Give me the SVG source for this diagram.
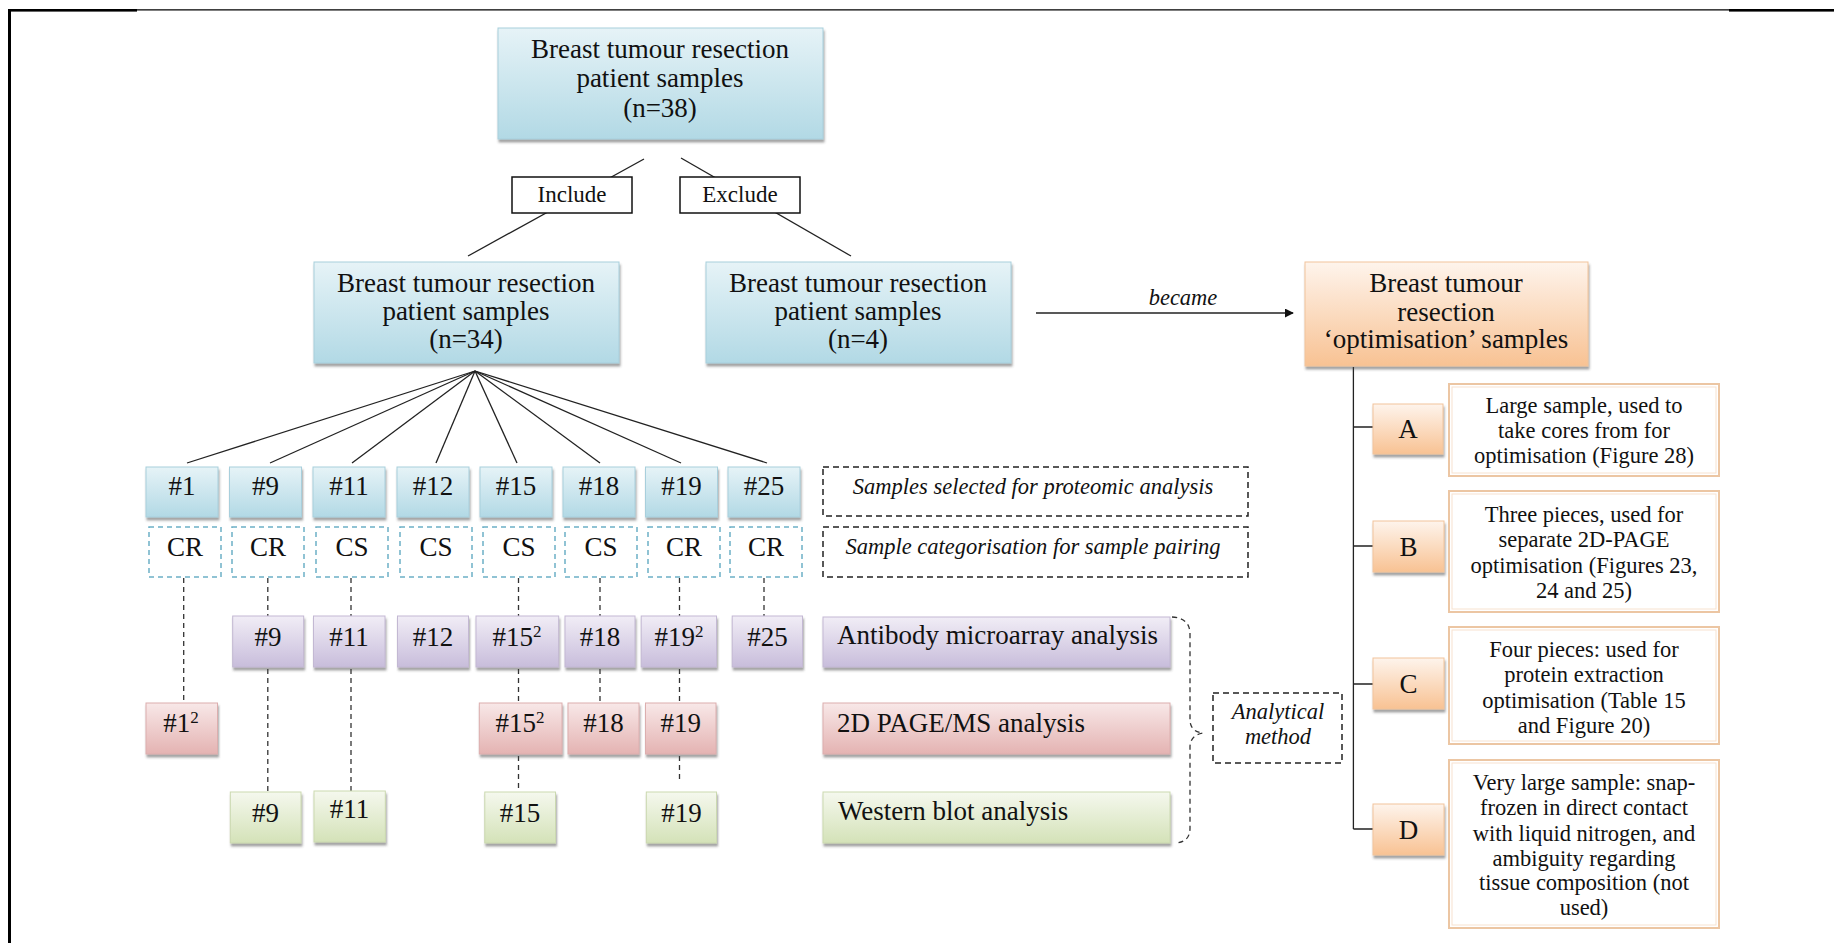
<svg xmlns="http://www.w3.org/2000/svg" width="1834" height="943" viewBox="0 0 1834 943">
<defs>
<style>
.t{font-family:"Liberation Serif","Times New Roman",serif;fill:#111;text-anchor:middle}
.big{font-size:27px}
.num{font-size:27px}
.it{font-style:italic;font-size:22.5px}
.desc{font-size:22.5px}
.lbl{font-size:27px;text-anchor:start}
.ie{font-size:23px}
.blue{fill:url(#gBlue);stroke:#a8cfdc;stroke-width:1}
.purple{fill:url(#gPurple);stroke:#c3b8d3;stroke-width:1}
.red{fill:url(#gRed);stroke:#dcaeae;stroke-width:1}
.green{fill:url(#gGreen);stroke:#cbd9b0;stroke-width:1}
.orange{fill:url(#gOrange);stroke:#f1c49c;stroke-width:1}
.cat{fill:#fff;stroke:#6cb0c6;stroke-width:1.5;stroke-dasharray:5 4}
.note{fill:#fff;stroke:#222;stroke-width:1.5;stroke-dasharray:6 4}
.descbox{fill:#fff;stroke:#ecc6a3;stroke-width:2}
.descin{fill:none;stroke:#f7e2cf;stroke-width:1}
.ln{stroke:#222;stroke-width:1.3;fill:none}
.dl{stroke:#333;stroke-width:1.3;stroke-dasharray:5 4;fill:none}
</style>
<linearGradient id="gBlue" x1="0" y1="0" x2="0" y2="1"><stop offset="0" stop-color="#e6f3f7"/><stop offset="1" stop-color="#b2d9e5"/></linearGradient>
<linearGradient id="gPurple" x1="0" y1="0" x2="0" y2="1"><stop offset="0" stop-color="#f1edf6"/><stop offset="1" stop-color="#c8bddb"/></linearGradient>
<linearGradient id="gRed" x1="0" y1="0" x2="0" y2="1"><stop offset="0" stop-color="#f8e8e8"/><stop offset="1" stop-color="#e4b3b2"/></linearGradient>
<linearGradient id="gGreen" x1="0" y1="0" x2="0" y2="1"><stop offset="0" stop-color="#f5f8ee"/><stop offset="1" stop-color="#d4e2b8"/></linearGradient>
<linearGradient id="gOrange" x1="0" y1="0" x2="0" y2="1"><stop offset="0" stop-color="#fef4ec"/><stop offset="1" stop-color="#f8c293"/></linearGradient>
<filter id="sh" x="-10%" y="-10%" width="125%" height="135%"><feDropShadow dx="1" dy="3" stdDeviation="1.2" flood-color="#444" flood-opacity="0.5"/></filter>
<marker id="arr" viewBox="0 0 10 10" refX="9" refY="5" markerWidth="9" markerHeight="9" markerUnits="userSpaceOnUse" orient="auto"><path d="M0,0 L10,5 L0,10 z" fill="#111"/></marker>
</defs>
<rect width="1834" height="943" fill="#fff"/>
<g id="frame">
<line x1="9" y1="9.8" x2="1834" y2="9.8" stroke="#000" stroke-width="1.2"/>
<rect x="8" y="9" width="129" height="2.6" fill="#000"/>
<rect x="1729" y="9" width="105" height="2.6" fill="#000"/>
<rect x="8" y="9" width="3" height="934" fill="#000"/>
</g>
<g id="connectors">
<line class="ln" x1="644" y1="159" x2="468" y2="256"/>
<line class="ln" x1="681" y1="158" x2="851" y2="256"/>
<line class="ln" x1="475" y1="371" x2="187" y2="463"/>
<line class="ln" x1="475" y1="371" x2="270" y2="463"/>
<line class="ln" x1="475" y1="371" x2="352" y2="463"/>
<line class="ln" x1="475" y1="371" x2="436" y2="463"/>
<line class="ln" x1="475" y1="371" x2="517" y2="463"/>
<line class="ln" x1="475" y1="371" x2="600" y2="463"/>
<line class="ln" x1="475" y1="371" x2="681" y2="463"/>
<line class="ln" x1="475" y1="371" x2="767" y2="463"/>
<line class="dl" x1="183.7" y1="578" x2="183.7" y2="703"/>
<line class="dl" x1="267.8" y1="578" x2="267.8" y2="616"/>
<line class="dl" x1="267.8" y1="669" x2="267.8" y2="792"/>
<line class="dl" x1="351" y1="578" x2="351" y2="616"/>
<line class="dl" x1="351" y1="669" x2="351" y2="792"/>
<line class="dl" x1="518.5" y1="578" x2="518.5" y2="616"/>
<line class="dl" x1="518.5" y1="669" x2="518.5" y2="703"/>
<line class="dl" x1="518.5" y1="756" x2="518.5" y2="792"/>
<line class="dl" x1="600" y1="578" x2="600" y2="616"/>
<line class="dl" x1="600" y1="669" x2="600" y2="703"/>
<line class="dl" x1="679.5" y1="578" x2="679.5" y2="616"/>
<line class="dl" x1="679.5" y1="669" x2="679.5" y2="703"/>
<line class="dl" x1="679.5" y1="756" x2="679.5" y2="782"/>
<line class="dl" x1="764" y1="578" x2="764" y2="616"/>
<line class="ln" x1="1036" y1="313" x2="1293" y2="313" marker-end="url(#arr)"/>
<text class="t it" x="1183" y="305">became</text>
<path class="ln" d="M1353.4,367 V829 M1353.4,427 H1373 M1353.4,546 H1373 M1353.4,684 H1373 M1353.4,829 H1373"/>
<path class="dl" d="M1172,617 Q1190,618 1190,634 L1190,721 Q1191,732 1203,733 Q1191,735 1190,746 L1190,828 Q1190,842 1176,843"/>
</g>
<g id="n38"><rect class="blue" filter="url(#sh)" x="498" y="28" width="325" height="111"/><text class="t big" x="660" y="58">Breast tumour resection</text><text class="t big" x="660" y="87">patient samples</text><text class="t big" x="660" y="117">(n=38)</text></g>
<g id="include"><rect x="512" y="177" width="120" height="36" fill="#fff" stroke="#111" stroke-width="1.5"/><text class="t ie" x="572" y="202">Include</text></g>
<g id="exclude"><rect x="680" y="177" width="120" height="36" fill="#fff" stroke="#111" stroke-width="1.5"/><text class="t ie" x="740" y="202">Exclude</text></g>
<g id="n34"><rect class="blue" filter="url(#sh)" x="314" y="262" width="305" height="101"/><text class="t big" x="466" y="292">Breast tumour resection</text><text class="t big" x="466" y="320">patient samples</text><text class="t big" x="466" y="348">(n=34)</text></g>
<g id="n4"><rect class="blue" filter="url(#sh)" x="706" y="262" width="305" height="101"/><text class="t big" x="858" y="292">Breast tumour resection</text><text class="t big" x="858" y="320">patient samples</text><text class="t big" x="858" y="348">(n=4)</text></g>
<g id="opt"><rect class="orange" filter="url(#sh)" x="1305" y="262" width="283" height="104"/><text class="t big" x="1446" y="292">Breast tumour</text><text class="t big" x="1446" y="321">resection</text><text class="t big" x="1446" y="348">‘optimisation’ samples</text></g>
<g id="samples">
<g id="s1"><rect class="blue" filter="url(#sh)" x="146" y="467" width="72" height="50"/><text class="t num" x="182" y="495">#1</text></g>
<g id="s9"><rect class="blue" filter="url(#sh)" x="229.5" y="467" width="72" height="50"/><text class="t num" x="265.5" y="495">#9</text></g>
<g id="s11"><rect class="blue" filter="url(#sh)" x="313" y="467" width="72" height="50"/><text class="t num" x="349" y="495">#11</text></g>
<g id="s12"><rect class="blue" filter="url(#sh)" x="397" y="467" width="72" height="50"/><text class="t num" x="433" y="495">#12</text></g>
<g id="s15"><rect class="blue" filter="url(#sh)" x="480" y="467" width="72" height="50"/><text class="t num" x="516" y="495">#15</text></g>
<g id="s18"><rect class="blue" filter="url(#sh)" x="563" y="467" width="72" height="50"/><text class="t num" x="599" y="495">#18</text></g>
<g id="s19"><rect class="blue" filter="url(#sh)" x="645.5" y="467" width="72" height="50"/><text class="t num" x="681.5" y="495">#19</text></g>
<g id="s25"><rect class="blue" filter="url(#sh)" x="728" y="467" width="72" height="50"/><text class="t num" x="764" y="495">#25</text></g>
</g>
<g id="categories">
<g id="c1"><rect class="cat" x="149" y="527" width="72" height="50"/><text class="t num" x="185" y="556">CR</text></g>
<g id="c9"><rect class="cat" x="232" y="527" width="72" height="50"/><text class="t num" x="268" y="556">CR</text></g>
<g id="c11"><rect class="cat" x="316" y="527" width="72" height="50"/><text class="t num" x="352" y="556">CS</text></g>
<g id="c12"><rect class="cat" x="400" y="527" width="72" height="50"/><text class="t num" x="436" y="556">CS</text></g>
<g id="c15"><rect class="cat" x="483" y="527" width="72" height="50"/><text class="t num" x="519" y="556">CS</text></g>
<g id="c18"><rect class="cat" x="565" y="527" width="72" height="50"/><text class="t num" x="601" y="556">CS</text></g>
<g id="c19"><rect class="cat" x="648" y="527" width="72" height="50"/><text class="t num" x="684" y="556">CR</text></g>
<g id="c25"><rect class="cat" x="730" y="527" width="72" height="50"/><text class="t num" x="766" y="556">CR</text></g>
</g>
<g id="antibody-row">
<g id="a9"><rect class="purple" filter="url(#sh)" x="232.7" y="616" width="71" height="51"/><text class="t num" x="268" y="646">#9</text></g>
<g id="a11"><rect class="purple" filter="url(#sh)" x="313.5" y="616" width="71.5" height="51"/><text class="t num" x="349" y="646">#11</text></g>
<g id="a12"><rect class="purple" filter="url(#sh)" x="397.5" y="616" width="71" height="51"/><text class="t num" x="433" y="646">#12</text></g>
<g id="a15"><rect class="purple" filter="url(#sh)" x="476" y="616" width="82.7" height="51"/><text class="t num" x="517" y="646">#15<tspan font-size="17" dy="-9">2</tspan></text></g>
<g id="a18"><rect class="purple" filter="url(#sh)" x="565" y="616" width="70" height="51"/><text class="t num" x="600" y="646">#18</text></g>
<g id="a19"><rect class="purple" filter="url(#sh)" x="641.2" y="616" width="75.3" height="51"/><text class="t num" x="679" y="646">#19<tspan font-size="17" dy="-9">2</tspan></text></g>
<g id="a25"><rect class="purple" filter="url(#sh)" x="732.2" y="616" width="70.3" height="51"/><text class="t num" x="767.5" y="646">#25</text></g>
</g>
<g id="page-row">
<g id="p1"><rect class="red" filter="url(#sh)" x="146" y="703" width="71.5" height="51"/><text class="t num" x="181" y="732">#1<tspan font-size="17" dy="-9">2</tspan></text></g>
<g id="p15"><rect class="red" filter="url(#sh)" x="479.3" y="703" width="82.7" height="51"/><text class="t num" x="520" y="732">#15<tspan font-size="17" dy="-9">2</tspan></text></g>
<g id="p18"><rect class="red" filter="url(#sh)" x="568" y="703" width="71" height="51"/><text class="t num" x="603.5" y="732">#18</text></g>
<g id="p19"><rect class="red" filter="url(#sh)" x="645.5" y="703" width="70.5" height="51"/><text class="t num" x="680.7" y="732">#19</text></g>
</g>
<g id="western-row">
<g id="w9"><rect class="green" filter="url(#sh)" x="230.3" y="792" width="70.7" height="51"/><text class="t num" x="265.6" y="822">#9</text></g>
<g id="w11"><rect class="green" filter="url(#sh)" x="314" y="791" width="71.3" height="51"/><text class="t num" x="349.6" y="818">#11</text></g>
<g id="w15"><rect class="green" filter="url(#sh)" x="484.8" y="792" width="70.7" height="51"/><text class="t num" x="520.1" y="822">#15</text></g>
<g id="w19"><rect class="green" filter="url(#sh)" x="646.3" y="792" width="70.2" height="51"/><text class="t num" x="681.4" y="822">#19</text></g>
</g>
<g id="legend">
<g id="lg-selected"><rect class="note" x="823" y="467" width="425" height="49"/><text class="t it" x="1033" y="494">Samples selected for proteomic analysis</text></g>
<g id="lg-category"><rect class="note" x="823" y="527" width="425" height="50"/><text class="t it" x="1033" y="554">Sample categorisation for sample pairing</text></g>
<g id="lg-antibody"><rect class="purple" filter="url(#sh)" x="823" y="617" width="347" height="50"/><text class="t lbl" x="837" y="644">Antibody microarray analysis</text></g>
<g id="lg-page"><rect class="red" filter="url(#sh)" x="823" y="703" width="347" height="51"/><text class="t lbl" x="837" y="732">2D PAGE/MS analysis</text></g>
<g id="lg-western"><rect class="green" filter="url(#sh)" x="823" y="792" width="347" height="51"/><text class="t lbl" x="838" y="820">Western blot analysis</text></g>
<g id="lg-method"><rect class="note" x="1213" y="693" width="129" height="70"/><text class="t it" x="1278" y="719">Analytical</text><text class="t it" x="1278" y="744">method</text></g>
</g>
<g id="opt-items">
<g id="oA"><rect class="orange" filter="url(#sh)" x="1373" y="404" width="70" height="50"/><text class="t num" x="1408" y="438">A</text></g>
<g id="oB"><rect class="orange" filter="url(#sh)" x="1373" y="521" width="71" height="51"/><text class="t num" x="1408.5" y="556">B</text></g>
<g id="oC"><rect class="orange" filter="url(#sh)" x="1373" y="658" width="71" height="51"/><text class="t num" x="1408.5" y="693">C</text></g>
<g id="oD"><rect class="orange" filter="url(#sh)" x="1373" y="804" width="71" height="51"/><text class="t num" x="1408.5" y="839">D</text></g>
<g id="dA"><rect class="descbox" x="1449" y="384" width="270" height="92"/><rect class="descin" x="1452" y="387" width="264" height="86"/><text class="t desc" x="1584" y="413">Large sample, used to</text><text class="t desc" x="1584" y="438">take cores from for</text><text class="t desc" x="1584" y="463">optimisation (Figure 28)</text></g>
<g id="dB"><rect class="descbox" x="1449" y="491" width="270" height="121"/><rect class="descin" x="1452" y="494" width="264" height="115"/><text class="t desc" x="1584" y="522">Three pieces, used for</text><text class="t desc" x="1584" y="547">separate 2D-PAGE</text><text class="t desc" x="1584" y="573">optimisation (Figures 23,</text><text class="t desc" x="1584" y="598">24 and 25)</text></g>
<g id="dC"><rect class="descbox" x="1449" y="627" width="270" height="117"/><rect class="descin" x="1452" y="630" width="264" height="111"/><text class="t desc" x="1584" y="657">Four pieces: used for</text><text class="t desc" x="1584" y="682">protein extraction</text><text class="t desc" x="1584" y="708">optimisation (Table 15</text><text class="t desc" x="1584" y="733">and Figure 20)</text></g>
<g id="dD"><rect class="descbox" x="1449" y="760" width="270" height="168"/><rect class="descin" x="1452" y="763" width="264" height="162"/><text class="t desc" x="1584" y="790">Very large sample: snap-</text><text class="t desc" x="1584" y="815">frozen in direct contact</text><text class="t desc" x="1584" y="841">with liquid nitrogen, and</text><text class="t desc" x="1584" y="866">ambiguity regarding</text><text class="t desc" x="1584" y="890">tissue composition (not</text><text class="t desc" x="1584" y="915">used)</text></g>
</g>
</svg>
